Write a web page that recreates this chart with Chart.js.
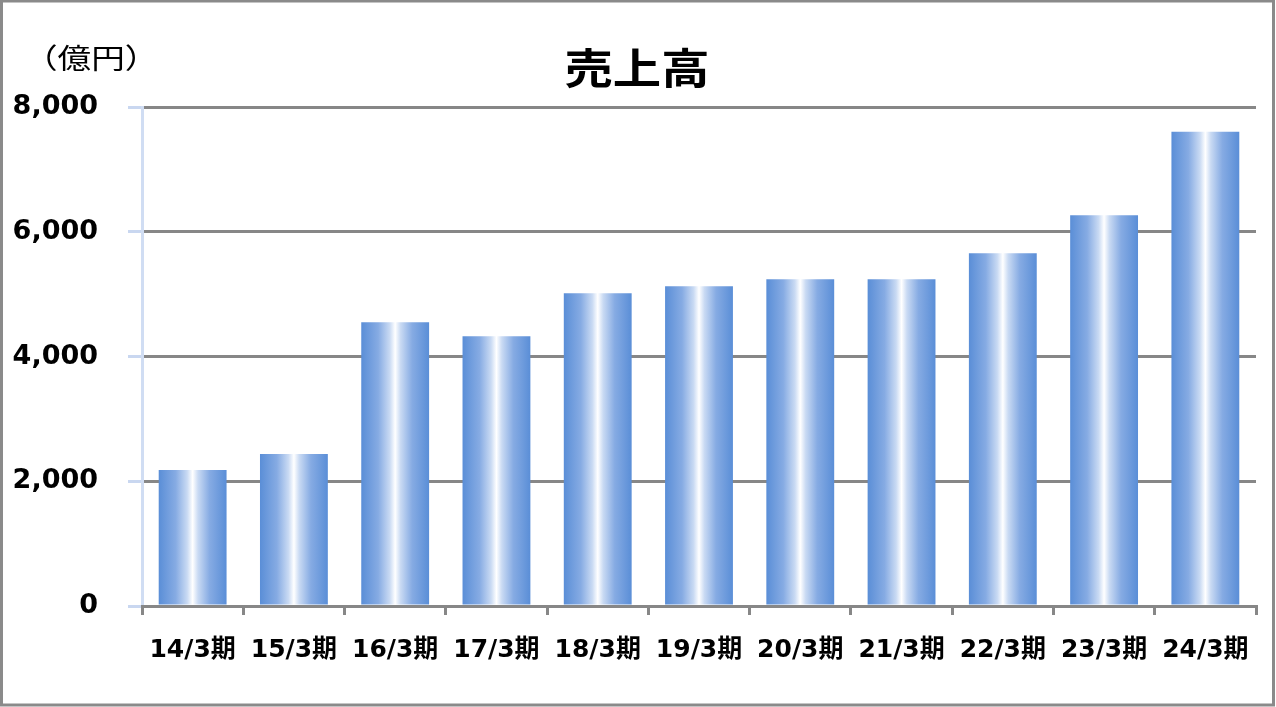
<!DOCTYPE html>
<html>
<head>
<meta charset="utf-8">
<script src="https://cdn.jsdelivr.net/npm/chart.js@4"></script>
<style>
  html, body { margin: 0; padding: 0; background: #fff; }
  #wrap { width: 1276px; height: 707px; }
</style>
</head>
<body>
<div id="wrap"><canvas id="sales_chart" width="1276" height="707"></canvas></div>
<script>
// 売上高（億円）
var periods = ["14/3期", "15/3期", "16/3期", "17/3期", "18/3期", "19/3期", "20/3期", "21/3期", "22/3期", "23/3期", "24/3期"];
var sales = [2180, 2435, 4550, 4325, 5015, 5125, 5240, 5240, 5655, 6265, 7605];
var y_ticks = [0, 2000, 4000, 6000, 8000];

var FONT = "'DejaVu Sans', 'Noto Sans CJK JP', sans-serif";
var JP_FONT = "'Noto Sans CJK JP', sans-serif";
var BAR_PCT = 0.67;

// 棒ごとの横グラデーション
function barGradient(context) {
   var chart = context.chart;
   var xs = chart.scales.x;
   if (!xs || !chart.chartArea) return "#5b8fd8";
   var center = xs.getPixelForValue(context.dataIndex);
   var half = (chart.chartArea.width / periods.length) * BAR_PCT / 2;
   var g = chart.ctx.createLinearGradient(center - half, 0, center + half, 0);
   g.addColorStop(0, "#5a8ed7");
   g.addColorStop(0.25, "#86abe3");
   g.addColorStop(0.42, "#c9daf3");
   g.addColorStop(0.5, "#ffffff");
   g.addColorStop(0.58, "#c9daf3");
   g.addColorStop(0.75, "#86abe3");
   g.addColorStop(1, "#5a8ed7");
   return g;
}

// 横に少し伸ばした文字
function wideText(ctx, text, x, y, sx, align) {
   ctx.save();
   ctx.translate(x, y);
   ctx.scale(sx, 1);
   ctx.textAlign = align;
   ctx.fillText(text, 0, 0);
   ctx.restore();
}

// タイトル・単位・外枠
var decor = {
   id: "decor",
   afterDraw: function (chart) {
      var ctx = chart.ctx;
      ctx.save();
      ctx.fillStyle = "#000";
      ctx.textBaseline = "middle";
      ctx.font = "bold 42px " + JP_FONT;
      wideText(ctx, "売上高", 637, 68, 1.15, "center");
      ctx.font = "28px " + JP_FONT;
      wideText(ctx, "（億円）", 24, 58, 1.2, "left");
      ctx.strokeStyle = "#8a8a8a";
      ctx.lineWidth = 3;
      ctx.strokeRect(1.5, 1, 1272, 704);
      ctx.restore();
   }
};

const config = {
   type: "bar",
   data: {
      labels: periods,
      datasets: [{
         data: sales,
         backgroundColor: barGradient,
         borderWidth: 0,
         barPercentage: BAR_PCT,
         categoryPercentage: 1.0
      }]
   },
   options: {
      responsive: false,
      animation: false,
      layout: { padding: { top: 107, right: 20, left: 0, bottom: 0 } },
      plugins: {
         legend: { display: false },
         title: { display: false },
         tooltip: { enabled: false }
      },
      scales: {
         y: {
            min: 0,
            max: 8000,
            afterBuildTicks: function (scale) {
               scale.ticks = y_ticks.map(function (v) { return { value: v }; });
            },
            afterFit: function (scale) { scale.width = 142; },
            ticks: {
               padding: 30,
               color: "#000",
               font: { family: FONT, size: 27, weight: "bold" },
               callback: function (v) { return v.toLocaleString("en-US"); }
            },
            grid: {
               color: "#878787",
               lineWidth: 3,
               tickColor: "#c9d7f0",
               tickLength: 14,
               tickWidth: 3
            },
            border: { color: "#d0ddf3", width: 3 }
         },
         x: {
            afterFit: function (scale) { scale.height = 101; },
            ticks: {
               padding: 20,
               color: "#000",
               maxRotation: 0,
               autoSkip: false,
               font: { family: FONT, size: 25, weight: "bold" }
            },
            grid: {
               offset: true,
               drawOnChartArea: false,
               color: "#878787",
               lineWidth: 3,
               tickLength: 9
            },
            border: { color: "#878787", width: 3 }
         }
      }
   },
   plugins: [decor]
};

const myChart = new Chart(document.getElementById("sales_chart"), config);
</script>
</body>
</html>
